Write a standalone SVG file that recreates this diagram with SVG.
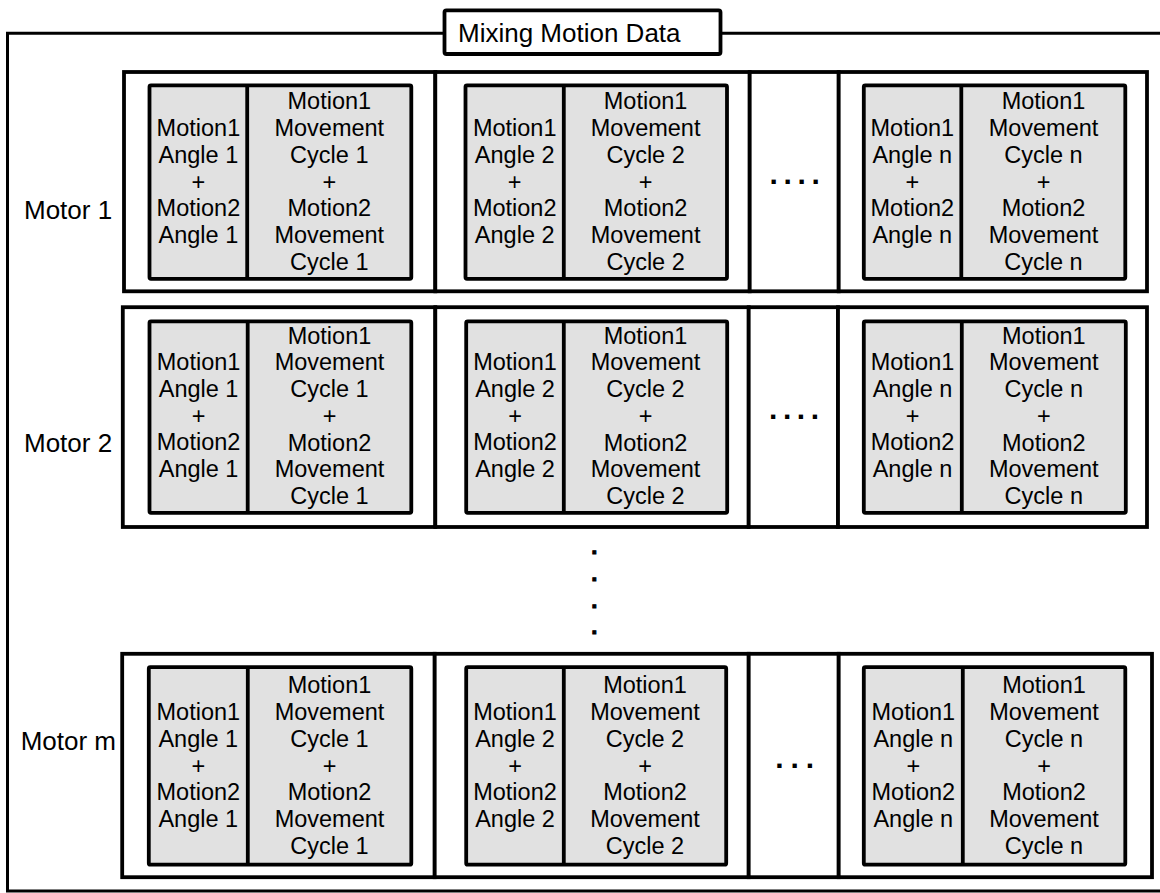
<svg xmlns="http://www.w3.org/2000/svg" width="1160" height="893" viewBox="0 0 1160 893">
  <style>
    .frame { fill: none; stroke: #000; stroke-width: 3; }
    .box { fill: #fff; stroke: #000; stroke-width: 3.8; }
    .cell { fill: #e1e1e1; stroke: #000; stroke-width: 3.8; }
    .div { stroke: #000; stroke-width: 3.8; }
    .t { font-family: "Liberation Sans", Arial, sans-serif; font-size: 23.5px; fill: #000; text-anchor: middle; }
    .lbl { font-family: "Liberation Sans", Arial, sans-serif; font-size: 26px; fill: #000; }
    .dots { font-family: "Liberation Sans", Arial, sans-serif; font-size: 30px; font-weight: bold; fill: #000; }
    .vdot { font-family: "Liberation Sans", Arial, sans-serif; font-size: 22px; font-weight: bold; fill: #000; stroke: #000; stroke-width: 1; text-anchor: middle; }
  </style>

  <!-- outer frame with title tab -->
  <g id="frame">
    <path class="frame" d="M444.5,33.3 H7.5 V891 H1160 M720.5,33.3 H1160"/>
    <rect class="box" x="444.5" y="10.3" width="276" height="43.7" rx="2"/>
    <text class="lbl" x="458" y="41.7">Mixing Motion Data</text>
  </g>

  <!-- ===== Motor 1 ===== -->
  <g id="motor1">
    <text class="lbl" x="24" y="219">Motor 1</text>
    <rect class="box" x="124" y="72" width="311.3" height="219.3"/>
    <rect class="box" x="435.3" y="72" width="314.4" height="219.3"/>
    <rect class="box" x="749.7" y="72" width="89" height="219.3"/>
    <rect class="box" x="838.7" y="72" width="308.3" height="219.3"/>
  </g>
  <g id="m1-c1">
    <rect class="cell" x="149.5" y="85.3" width="261.8" height="193.5" rx="1.5"/>
    <line class="div" x1="247.2" y1="85.3" x2="247.2" y2="278.8"/>
    <text class="t" y="136"><tspan x="198.4">Motion1</tspan><tspan x="198.4" dy="26.75">Angle 1</tspan><tspan x="198.4" dy="26.75">+</tspan><tspan x="198.4" dy="26.75">Motion2</tspan><tspan x="198.4" dy="26.75">Angle 1</tspan></text>
    <text class="t" y="109.3"><tspan x="329.3">Motion1</tspan><tspan x="329.3" dy="26.75">Movement</tspan><tspan x="329.3" dy="26.75">Cycle 1</tspan><tspan x="329.3" dy="26.75">+</tspan><tspan x="329.3" dy="26.75">Motion2</tspan><tspan x="329.3" dy="26.75">Movement</tspan><tspan x="329.3" dy="26.75">Cycle 1</tspan></text>
  </g>
  <g id="m1-c2">
    <rect class="cell" x="465.5" y="85.3" width="261.5" height="193.5" rx="1.5"/>
    <line class="div" x1="563.8" y1="85.3" x2="563.8" y2="278.8"/>
    <text class="t" y="136"><tspan x="514.7">Motion1</tspan><tspan x="514.7" dy="26.75">Angle 2</tspan><tspan x="514.7" dy="26.75">+</tspan><tspan x="514.7" dy="26.75">Motion2</tspan><tspan x="514.7" dy="26.75">Angle 2</tspan></text>
    <text class="t" y="109.3"><tspan x="645.6">Motion1</tspan><tspan x="645.6" dy="26.75">Movement</tspan><tspan x="645.6" dy="26.75">Cycle 2</tspan><tspan x="645.6" dy="26.75">+</tspan><tspan x="645.6" dy="26.75">Motion2</tspan><tspan x="645.6" dy="26.75">Movement</tspan><tspan x="645.6" dy="26.75">Cycle 2</tspan></text>
  </g>
  <g id="m1-gap">
    <text class="dots" x="769.6" y="184.3" letter-spacing="5.6">....</text>
  </g>
  <g id="m1-cn">
    <rect class="cell" x="863.8" y="85.3" width="261.5" height="193.5" rx="1.5"/>
    <line class="div" x1="961.3" y1="85.3" x2="961.3" y2="278.8"/>
    <text class="t" y="136"><tspan x="912.3">Motion1</tspan><tspan x="912.3" dy="26.75">Angle n</tspan><tspan x="912.3" dy="26.75">+</tspan><tspan x="912.3" dy="26.75">Motion2</tspan><tspan x="912.3" dy="26.75">Angle n</tspan></text>
    <text class="t" y="109.3"><tspan x="1043.5">Motion1</tspan><tspan x="1043.5" dy="26.75">Movement</tspan><tspan x="1043.5" dy="26.75">Cycle n</tspan><tspan x="1043.5" dy="26.75">+</tspan><tspan x="1043.5" dy="26.75">Motion2</tspan><tspan x="1043.5" dy="26.75">Movement</tspan><tspan x="1043.5" dy="26.75">Cycle n</tspan></text>
  </g>

  <!-- ===== Motor 2 ===== -->
  <g id="motor2">
    <text class="lbl" x="24" y="451.7">Motor 2</text>
    <rect class="box" x="122.8" y="307.2" width="312.5" height="219.8"/>
    <rect class="box" x="435.3" y="307.2" width="313.4" height="219.8"/>
    <rect class="box" x="748.7" y="307.2" width="89.3" height="219.8"/>
    <rect class="box" x="838" y="307.2" width="309" height="219.8"/>
  </g>
  <g id="m2-c1">
    <rect class="cell" x="149.5" y="321.3" width="261.8" height="191.5" rx="1.5"/>
    <line class="div" x1="247.7" y1="321.3" x2="247.7" y2="512.8"/>
    <text class="t" y="370.2"><tspan x="198.6">Motion1</tspan><tspan x="198.6" dy="26.75">Angle 1</tspan><tspan x="198.6" dy="26.75">+</tspan><tspan x="198.6" dy="26.75">Motion2</tspan><tspan x="198.6" dy="26.75">Angle 1</tspan></text>
    <text class="t" y="343.5"><tspan x="329.5">Motion1</tspan><tspan x="329.5" dy="26.75">Movement</tspan><tspan x="329.5" dy="26.75">Cycle 1</tspan><tspan x="329.5" dy="26.75">+</tspan><tspan x="329.5" dy="26.75">Motion2</tspan><tspan x="329.5" dy="26.75">Movement</tspan><tspan x="329.5" dy="26.75">Cycle 1</tspan></text>
  </g>
  <g id="m2-c2">
    <rect class="cell" x="466.2" y="321.3" width="261" height="191.5" rx="1.5"/>
    <line class="div" x1="563.8" y1="321.3" x2="563.8" y2="512.8"/>
    <text class="t" y="370.2"><tspan x="515">Motion1</tspan><tspan x="515" dy="26.75">Angle 2</tspan><tspan x="515" dy="26.75">+</tspan><tspan x="515" dy="26.75">Motion2</tspan><tspan x="515" dy="26.75">Angle 2</tspan></text>
    <text class="t" y="343.5"><tspan x="645.5">Motion1</tspan><tspan x="645.5" dy="26.75">Movement</tspan><tspan x="645.5" dy="26.75">Cycle 2</tspan><tspan x="645.5" dy="26.75">+</tspan><tspan x="645.5" dy="26.75">Motion2</tspan><tspan x="645.5" dy="26.75">Movement</tspan><tspan x="645.5" dy="26.75">Cycle 2</tspan></text>
  </g>
  <g id="m2-gap">
    <text class="dots" x="769" y="419" letter-spacing="5.6">....</text>
  </g>
  <g id="m2-cn">
    <rect class="cell" x="863.8" y="321.3" width="262" height="191.5" rx="1.5"/>
    <line class="div" x1="961.8" y1="321.3" x2="961.8" y2="512.8"/>
    <text class="t" y="370.2"><tspan x="912.5">Motion1</tspan><tspan x="912.5" dy="26.75">Angle n</tspan><tspan x="912.5" dy="26.75">+</tspan><tspan x="912.5" dy="26.75">Motion2</tspan><tspan x="912.5" dy="26.75">Angle n</tspan></text>
    <text class="t" y="343.5"><tspan x="1043.8">Motion1</tspan><tspan x="1043.8" dy="26.75">Movement</tspan><tspan x="1043.8" dy="26.75">Cycle n</tspan><tspan x="1043.8" dy="26.75">+</tspan><tspan x="1043.8" dy="26.75">Motion2</tspan><tspan x="1043.8" dy="26.75">Movement</tspan><tspan x="1043.8" dy="26.75">Cycle n</tspan></text>
  </g>

  <!-- rows omitted between Motor 2 and Motor m: one vertical column of dots -->
  <g id="row-gap">
    <text class="vdot" y="554"><tspan x="594.3">.</tspan><tspan x="594.3" dy="26.7">.</tspan><tspan x="594.3" dy="27">.</tspan><tspan x="594.3" dy="26.6">.</tspan></text>
  </g>

  <!-- ===== Motor m ===== -->
  <g id="motorm">
    <text class="lbl" x="20.7" y="750">Motor m</text>
    <rect class="box" x="122.2" y="653.8" width="312.5" height="223.4"/>
    <rect class="box" x="434.7" y="653.8" width="314" height="223.4"/>
    <rect class="box" x="748.7" y="653.8" width="90" height="223.4"/>
    <rect class="box" x="838.7" y="653.8" width="313.3" height="223.4"/>
  </g>
  <g id="mm-c1">
    <rect class="cell" x="148.8" y="667.2" width="262.5" height="197.5" rx="1.5"/>
    <line class="div" x1="247.8" y1="667.2" x2="247.8" y2="864.7"/>
    <text class="t" y="720"><tspan x="198.3">Motion1</tspan><tspan x="198.3" dy="26.75">Angle 1</tspan><tspan x="198.3" dy="26.75">+</tspan><tspan x="198.3" dy="26.75">Motion2</tspan><tspan x="198.3" dy="26.75">Angle 1</tspan></text>
    <text class="t" y="693.3"><tspan x="329.5">Motion1</tspan><tspan x="329.5" dy="26.75">Movement</tspan><tspan x="329.5" dy="26.75">Cycle 1</tspan><tspan x="329.5" dy="26.75">+</tspan><tspan x="329.5" dy="26.75">Motion2</tspan><tspan x="329.5" dy="26.75">Movement</tspan><tspan x="329.5" dy="26.75">Cycle 1</tspan></text>
  </g>
  <g id="mm-c2">
    <rect class="cell" x="466.2" y="667.2" width="260" height="197.5" rx="1.5"/>
    <line class="div" x1="563.8" y1="667.2" x2="563.8" y2="864.7"/>
    <text class="t" y="720"><tspan x="515">Motion1</tspan><tspan x="515" dy="26.75">Angle 2</tspan><tspan x="515" dy="26.75">+</tspan><tspan x="515" dy="26.75">Motion2</tspan><tspan x="515" dy="26.75">Angle 2</tspan></text>
    <text class="t" y="693.3"><tspan x="645">Motion1</tspan><tspan x="645" dy="26.75">Movement</tspan><tspan x="645" dy="26.75">Cycle 2</tspan><tspan x="645" dy="26.75">+</tspan><tspan x="645" dy="26.75">Motion2</tspan><tspan x="645" dy="26.75">Movement</tspan><tspan x="645" dy="26.75">Cycle 2</tspan></text>
  </g>
  <g id="mm-gap">
    <text class="dots" x="775.2" y="767.7" letter-spacing="7">...</text>
  </g>
  <g id="mm-cn">
    <rect class="cell" x="863.8" y="667.2" width="261.5" height="197.5" rx="1.5"/>
    <line class="div" x1="962.8" y1="667.2" x2="962.8" y2="864.7"/>
    <text class="t" y="720"><tspan x="913.3">Motion1</tspan><tspan x="913.3" dy="26.75">Angle n</tspan><tspan x="913.3" dy="26.75">+</tspan><tspan x="913.3" dy="26.75">Motion2</tspan><tspan x="913.3" dy="26.75">Angle n</tspan></text>
    <text class="t" y="693.3"><tspan x="1044">Motion1</tspan><tspan x="1044" dy="26.75">Movement</tspan><tspan x="1044" dy="26.75">Cycle n</tspan><tspan x="1044" dy="26.75">+</tspan><tspan x="1044" dy="26.75">Motion2</tspan><tspan x="1044" dy="26.75">Movement</tspan><tspan x="1044" dy="26.75">Cycle n</tspan></text>
  </g>
</svg>
